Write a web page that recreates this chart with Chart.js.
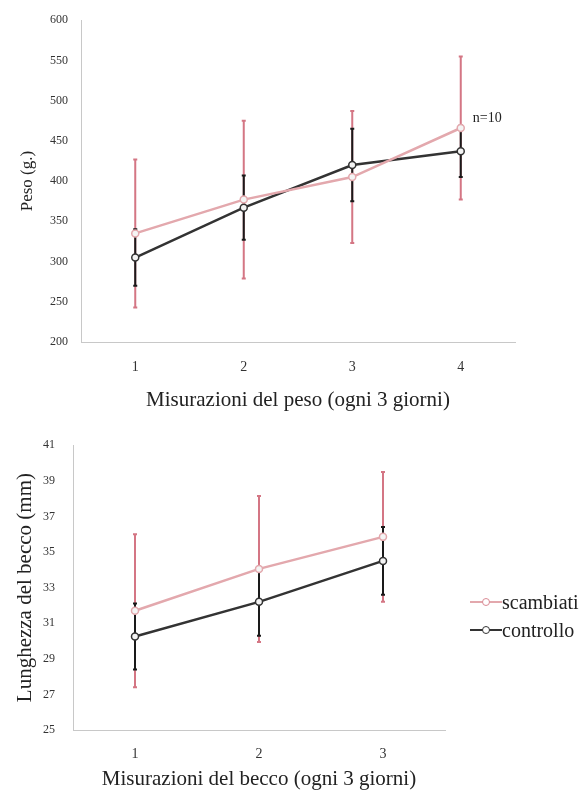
<!DOCTYPE html>
<html lang="it">
<head>
    <meta charset="UTF-8">
    <title>Peso e becco</title>
    <script src="https://cdn.jsdelivr.net/npm/chart.js"></script>
    <style>
        body { margin: 0; background: #fff; }
        .wrap { position: absolute; left: 0; width: 587px; }
        .legend { position: absolute; left: 470px; font-family: "Liberation Serif", serif; font-size: 20px; color: #222; }
        .legend div { position: absolute; left: 0; white-space: nowrap; height: 22px; line-height: 22px; }
        .mk { display: inline-block; position: relative; width: 32px; height: 22px; vertical-align: top; }
        .mk i { position: absolute; left: 0; right: 0; top: 10px; height: 2px; }
        .mk b { position: absolute; left: 12px; top: 7px; width: 6px; height: 6px; border-radius: 50%; background: #fff; border: 1.5px solid; }
    </style>
</head>
<body>
    <div class="wrap" style="top:0;height:420px"><canvas id="pesoChart" width="587" height="420"></canvas></div>
    <div class="wrap" style="top:420px;height:376px"><canvas id="beccoChart" width="587" height="376"></canvas></div>

    <div class="legend" style="top:591px">
        <div style="top:0"><span class="mk"><i style="background:#e3a8ad"></i><b style="border-color:#d98a94"></b></span>scambiati</div>
        <div style="top:28px"><span class="mk"><i style="background:#333"></i><b style="border-color:#333"></b></span>controllo</div>
    </div>

    <script>
        // dati
        const pesoLabels = ['1', '2', '3', '4'];
        const pesoScambiati = [335, 377, 405, 466];
        const pesoScambiatiErr = [92, 98, 82, 89];
        const pesoControllo = [305, 367, 420, 437];
        const pesoControlloErr = [35, 40, 45, 32];
        const pesoTicks = [200, 250, 300, 350, 400, 450, 500, 550, 600];

        const beccoLabels = ['1', '2', '3'];
        const beccoScambiati = [31.7, 34.05, 35.85];
        const beccoScambiatiErr = [4.3, 4.1, 3.65];
        const beccoControllo = [30.25, 32.2, 34.5];
        const beccoControlloErr = [1.85, 1.9, 1.9];
        const beccoTicks = [25, 27, 29, 31, 33, 35, 37, 39, 41];

        const PINK = '#e3a8ad';
        const PINK_ERR = '#d47684';
        const DARK = '#333333';
        const SERIF = '"Liberation Serif", "DejaVu Serif", serif';

        // barre d'errore disegnate con le scale di Chart.js
        const errorBars = {
            id: 'errorBars',
            beforeDatasetsDraw(chart) {
                const ctx = chart.ctx;
                const y = chart.scales.y;
                chart.data.datasets.forEach((ds, i) => {
                    const meta = chart.getDatasetMeta(i);
                    ctx.save();
                    ctx.strokeStyle = ds.errColor;
                    ctx.lineWidth = 2;
                    meta.data.forEach((pt, j) => {
                        const top = y.getPixelForValue(ds.data[j] + ds.err[j]);
                        const bot = y.getPixelForValue(ds.data[j] - ds.err[j]);
                        ctx.beginPath();
                        ctx.moveTo(pt.x, top);
                        ctx.lineTo(pt.x, bot);
                        ctx.moveTo(pt.x - 2, top);
                        ctx.lineTo(pt.x + 2, top);
                        ctx.moveTo(pt.x - 2, bot);
                        ctx.lineTo(pt.x + 2, bot);
                        ctx.stroke();
                    });
                    ctx.restore();
                });
            }
        };

        // etichetta n=10 accanto all'ultimo punto
        const nLabel = {
            id: 'nLabel',
            afterDatasetsDraw(chart) {
                if (chart.canvas.id !== 'pesoChart') return;
                const ctx = chart.ctx;
                const x = chart.scales.x.getPixelForValue(3) + 12;
                const y = chart.scales.y.getPixelForValue(478);
                ctx.save();
                ctx.font = '14px ' + SERIF;
                ctx.fillStyle = '#222';
                ctx.textBaseline = 'middle';
                ctx.fillText('n=10', x, y);
                ctx.restore();
            }
        };

        function makeDataset(label, data, err, color, errColor) {
            return {
                label: label,
                data: data,
                err: err,
                errColor: errColor,
                borderColor: color,
                borderWidth: 2.5,
                pointRadius: 3.5,
                pointBorderWidth: 1.5,
                pointBackgroundColor: '#f4f4f4',
                pointBorderColor: color,
                tension: 0
            };
        }

        function makeOptions(o) {
            return {
                responsive: false,
                animation: false,
                layout: { padding: { left: o.padLeft, right: o.padRight, top: o.padTop, bottom: 0 } },
                plugins: { legend: { display: false }, tooltip: { enabled: false } },
                scales: {
                    x: {
                        offset: true,
                        grid: { display: false, drawTicks: false },
                        border: { color: '#c8c8c8', width: 1 },
                        ticks: { padding: o.xPad, color: '#333', font: { family: SERIF, size: 14 } },
                        title: { display: true, text: o.xTitle, color: '#222', padding: { top: 0, bottom: o.xTitlePad }, font: { family: SERIF, size: 21 } },
                        afterFit: s => { s.height = o.xHeight; }
                    },
                    y: {
                        min: o.ticks[0],
                        max: o.ticks[o.ticks.length - 1],
                        grid: { display: false, drawTicks: false },
                        border: { color: '#c8c8c8', width: 1 },
                        ticks: { stepSize: o.ticks[1] - o.ticks[0], padding: o.yPad, color: '#333', font: { family: SERIF, size: 12 } },
                        title: { display: true, text: o.yTitle, color: '#222', padding: { top: o.yTitlePad, bottom: 0 }, font: { family: SERIF, size: o.yTitleSize } },
                        afterFit: s => { s.width = o.yWidth; }
                    }
                }
            };
        }

        new Chart(document.getElementById('pesoChart'), {
            type: 'line',
            data: {
                labels: pesoLabels,
                datasets: [
                    makeDataset('scambiati', pesoScambiati, pesoScambiatiErr, PINK, PINK_ERR),
                    makeDataset('controllo', pesoControllo, pesoControlloErr, DARK, '#1a1a1a')
                ]
            },
            options: makeOptions({
                padLeft: 0, padRight: 72, padTop: 13, yWidth: 81, xHeight: 78,
                xPad: 17, xTitlePad: 7, yPad: 13, yTitlePad: 17, yTitleSize: 17,
                xTitle: 'Misurazioni del peso (ogni 3 giorni)', yTitle: 'Peso (g.)',
                ticks: pesoTicks
            }),
            plugins: [errorBars, nLabel]
        });

        new Chart(document.getElementById('beccoChart'), {
            type: 'line',
            data: {
                labels: beccoLabels,
                datasets: [
                    makeDataset('scambiati', beccoScambiati, beccoScambiatiErr, PINK, PINK_ERR),
                    makeDataset('controllo', beccoControllo, beccoControlloErr, DARK, '#1a1a1a')
                ]
            },
            options: makeOptions({
                padLeft: 0, padRight: 142, padTop: 13, yWidth: 73, xHeight: 66,
                xPad: 16, xTitlePad: 4, yPad: 18, yTitlePad: 13, yTitleSize: 21,
                xTitle: 'Misurazioni del becco (ogni 3 giorni)', yTitle: 'Lunghezza del becco (mm)',
                ticks: beccoTicks
            }),
            plugins: [errorBars]
        });
    </script>
</body>
</html>
